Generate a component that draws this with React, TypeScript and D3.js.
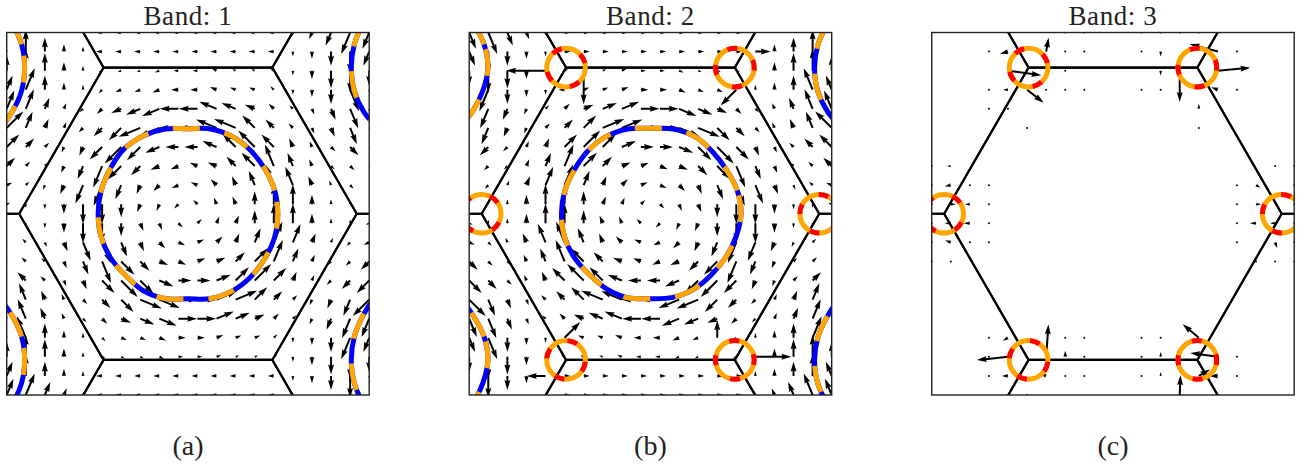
import React from "react";
import * as d3 from "d3";

// ---------- labels ----------
const bandNames = ["Band: 1", "Band: 2", "Band: 3"];
const panelTags = ["(a)", "(b)", "(c)"];

// ---------- Brillouin-zone geometry (1/Å) ----------
const kLimit = 4.5; // plotted window is [-kLimit, kLimit] in kx and ky
const kPointRadius = 4.19; // |ΓK| = 4π/3
const gridCount = 20; // quiver samples per axis

// Fermi contour around Γ: radius (1/Å) every 15°, counter-clockwise from +kx
const fermiAngleStep = 15;
const fermiRadiusBand1 = [
  2.23, 2.23, 2.21, 2.21, 2.21, 2.18, 2.11, 2.18, 2.23, 2.26, 2.23, 2.23,
  2.23, 2.23, 2.21, 2.18, 2.21, 2.18, 2.11, 2.18, 2.21, 2.21, 2.21, 2.23,
];
const fermiRadiusBand2 = [
  2.25, 2.23, 2.18, 2.18, 2.21, 2.18, 2.12, 2.18, 2.21, 2.2, 2.18, 2.2,
  2.21, 2.21, 2.18, 2.14, 2.16, 2.16, 2.11, 2.15, 2.16, 2.14, 2.16, 2.2,
];
// small pockets centred on the K points (bands 2 and 3)
const kPocketRadius = 0.48;

// Spin texture, rows from ky = +4.5 (top) to ky = -4.5 (bottom), columns kx = -4.5 .. 4.5.
// Token: first char = direction sector (hex, 22.5° steps counter-clockwise from +kx),
// rest = arrow magnitude.
const spinBand1 = [
  "514 519 511 55 53 84 84 84 84 84 84 84 84 84 84 b3 b5 b11 b19 b14",
  "512 418 411 45 43 84 84 84 84 84 84 84 84 84 84 c3 c5 c11 c18 b12",
  "412 418 414 46 43 92 92 92 93 83 83 73 72 72 72 c3 c6 c14 c18 c12",
  "312 319 411 45 43 a3 94 94 95 85 85 75 74 74 63 c3 c5 c11 d19 d12",
  "316 317 39 34 a3 a5 98 912 915 815 815 715 712 78 65 63 d4 d9 d17 d16",
  "219 314 37 34 a4 a9 a14 919 918 816 816 718 719 614 69 64 d4 d7 d14 e19",
  "214 29 24 b4 b7 a14 a19 a15 912 810 810 712 615 619 614 57 54 e4 e9 e14",
  "29 24 23 b5 b11 b19 a15 a10 97 96 76 77 610 615 519 511 55 e3 e4 e9",
  "14 23 b3 b7 b16 b18 b12 b7 a6 95 75 66 57 512 518 516 57 53 e3 f4",
  "12 c2 c3 c7 c16 c16 c10 b6 b5 a4 64 55 56 410 416 416 47 43 42 f2",
  "72 c2 c3 c7 c16 c16 c10 d6 d5 e4 24 35 36 410 416 416 47 43 42 92",
  "74 63 d3 d7 d16 d18 d12 d7 e6 f5 15 26 37 312 318 316 37 33 a3 94",
  "69 64 63 d5 d11 d19 e15 e10 f7 f6 16 17 210 215 319 311 35 a3 a4 a9",
  "614 69 64 d4 d7 e14 e19 e15 f12 010 010 112 215 219 214 37 34 a4 a9 a14",
  "619 514 57 54 e4 e9 e14 f19 f18 016 016 118 119 214 29 24 b4 b7 b14 a19",
  "516 517 59 54 e3 e5 f8 f12 f15 015 015 115 112 18 25 23 b4 b9 b17 b16",
  "512 519 411 45 43 e3 f4 f4 f5 05 05 15 14 14 23 c3 c5 c11 b19 b12",
  "412 418 414 46 43 f2 f2 f2 f3 03 03 13 12 12 12 c3 c6 c14 c18 c12",
  "312 418 411 45 43 84 84 84 84 84 84 84 84 84 84 c3 c5 c11 c18 d12",
  "314 319 311 35 33 84 84 84 84 84 84 84 84 84 84 d3 d5 d11 d19 d14",
];

const spinBand2 = [
  "d14 d19 d11 d5 d3 04 04 04 04 04 04 04 04 04 04 33 35 311 319 314",
  "d12 c18 c11 c5 c3 04 04 04 04 04 04 04 04 04 04 012 45 411 418 312",
  "c12 c18 c14 c6 833 12 c28 12 13 03 03 f3 f2 f2 f2 43 46 414 418 412",
  "b12 b19 c11 c5 c3 84 14 14 15 05 05 f5 f4 f4 a18 43 45 411 519 512",
  "b16 b17 b9 b4 23 25 18 112 115 015 015 f15 f12 f8 e5 e3 54 59 517 516",
  "a19 b14 b7 b4 24 29 214 119 118 016 016 f18 f19 e14 e9 e4 54 57 514 619",
  "a14 a9 a4 34 37 214 219 215 112 010 010 f12 e15 e19 e14 d7 d4 64 69 614",
  "a9 a4 a3 35 311 319 215 210 17 16 f6 f7 e10 e15 d19 d11 d5 63 64 69",
  "94 a3 33 37 316 318 312 37 26 15 f5 e6 d7 d12 d18 d16 d7 d3 63 74",
  "92 42 43 47 416 416 410 36 35 24 e4 d5 d6 c10 c16 c16 c7 c3 c2 72",
  "f2 42 43 47 416 416 410 56 55 64 a4 b5 b6 c10 c16 c16 c7 c3 c2 12",
  "f4 e3 53 57 516 518 512 57 66 75 95 a6 b7 b12 b18 b16 b7 b3 23 14",
  "e9 e4 e3 55 511 519 615 610 77 76 96 97 a10 a15 b19 b11 b5 23 24 29",
  "e14 e9 e4 54 57 614 619 615 712 810 810 912 a15 a19 a14 b7 b4 24 29 214",
  "e19 d14 d7 d4 64 69 614 719 718 816 816 918 919 a14 a9 a4 34 37 314 219",
  "d16 d17 d9 d4 63 65 78 712 715 815 815 915 912 98 a5 a3 34 39 317 316",
  "d12 d19 c11 c5 c3 218 74 74 75 85 85 95 94 414 a3 43 45 411 319 312",
  "c12 c18 c14 c6 c3 72 72 72 73 83 83 93 92 92 92 030 46 414 418 412",
  "b12 c18 c11 c5 815 04 04 04 04 04 04 04 04 04 04 43 45 411 418 512",
  "b14 b19 b11 b5 b3 04 04 04 04 04 04 04 04 04 04 53 55 511 519 514",
];

// Band 3 only carries spin near the K points: [column, row, angle°, magnitude]
const spinBand3: [number, number, number, number][] = [
  // K, upper left
  [4, 2, -8, 28], [5, 3, -38, 17], [6, 1, 80, 11], [4, 1, 195, 6], [4, 3, 180, 3],
  [5, 0, 90, 2], [6, 0, 90, 2], [3, 1, 0, 1], [3, 3, 0, 1], [3, 4, 0, 1], [4, 4, 0, 1],
  [5, 5, 0, 1], [6, 3, 0, 1], [7, 1, 0, 1], [8, 1, 0, 1], [7, 2, 0, 1], [7, 3, 0, 1], [8, 3, 0, 1],
  [7, 0, 0, 1], [8, 0, 0, 1],
  // K, upper right
  [15, 2, 5, 27], [13, 2, -90, 26], [15, 1, 165, 24], [12, 1, -90, 3], [12, 2, -90, 3],
  [15, 3, 160, 5], [14, 4, 90, 3], [11, 1, 0, 1], [16, 1, 0, 1], [16, 3, 0, 1], [14, 5, 0, 1],
  [12, 3, 0, 1], [11, 3, 0, 1], [11, 0, 0, 1], [12, 0, 0, 1], [13, 0, 0, 1], [14, 0, 0, 1],
  // K, left
  [1, 7, 180, 2], [1, 8, 190, 4], [2, 8, 0, 1], [1, 9, 0, 3], [2, 9, 180, 3], [1, 10, 180, 4],
  [2, 10, 180, 4], [1, 11, 160, 4], [2, 11, 0, 1], [3, 8, 0, 1], [3, 9, 0, 1], [3, 10, 0, 1],
  [3, 11, 0, 1], [1, 12, 0, 1], [0, 7, 0, 1], [0, 8, 0, 1], [0, 9, 0, 1], [0, 10, 0, 1],
  [0, 11, 0, 1], [0, 12, 0, 1],
  // K, right
  [18, 7, 0, 1], [17, 8, -30, 3], [16, 8, 0, 1], [16, 9, 0, 1], [16, 10, 0, 1], [16, 11, 0, 1],
  [17, 9, 0, 3], [17, 10, 180, 4], [18, 10, 180, 3], [18, 11, -70, 4], [17, 12, 0, 1],
  [18, 12, 0, 1], [19, 7, 0, 1], [19, 8, 0, 1], [19, 9, 0, 1], [19, 10, 0, 1], [19, 11, 0, 1],
  [19, 12, 0, 1],
  // K, lower left
  [4, 17, 186, 26], [6, 17, 86, 27], [4, 16, 210, 4], [3, 16, 0, 1], [4, 18, 180, 4],
  [6, 18, 160, 4], [7, 16, 0, 1], [7, 17, 90, 4], [7, 18, 0, 1], [8, 16, 0, 1], [8, 17, 0, 1],
  [8, 18, 0, 1], [3, 17, 0, 1], [3, 18, 0, 1], [5, 19, 0, 1],
  // K, lower right
  [14, 16, 140, 17], [15, 17, 172, 23], [14, 18, 30, 10], [13, 19, 88, 16], [15, 18, 180, 6],
  [16, 17, 0, 1], [16, 18, 0, 1], [12, 17, 90, 3], [11, 17, 0, 1], [12, 16, 0, 1],
  [11, 16, 0, 1], [12, 18, 90, 2], [11, 18, 0, 1],
];

// ---------- layout ----------
const width = 1311;
const height = 470;
const panelSize = 362.5;
const panelGap = 100;
const firstLeft = 6.7;
const panelTop = 32.5;

const colors = {
  blue: "#0000ff",
  orange: "#ffa500",
  red: "#ff0000",
  ink: "#000000",
};

// magnitude -> drawn arrow length (px)
const arrowLength = d3.scaleLinear().domain([0, 20]).range([1.5, 24.5]);

type Arrow = { kx: number; ky: number; angle: number; mag: number };

// matplotlib-style quiver polygon, tail at the origin, pointing along +x
function arrowShape(len: number): string {
  const w = 2.0;
  const hw = 3 * w;
  const hl = 5 * w;
  const hal = 4.5 * w;
  const s = len >= hl ? 1 : len / hl;
  const pts: [number, number][] = [
    [0, (-w / 2) * s],
    [len - hal * s, (-w / 2) * s],
    [len - hl * s, (-hw / 2) * s],
    [len, 0],
    [len - hl * s, (hw / 2) * s],
    [len - hal * s, (w / 2) * s],
    [0, (w / 2) * s],
  ];
  return "M" + pts.map((p) => `${p[0].toFixed(2)},${p[1].toFixed(2)}`).join("L") + "Z";
}

function Panel({ index }: { index: number }) {
  const left = firstLeft + index * (panelSize + panelGap);
  const x = d3.scaleLinear().domain([-kLimit, kLimit]).range([left, left + panelSize]);
  const y = d3.scaleLinear().domain([kLimit, -kLimit]).range([panelTop, panelTop + panelSize]);
  const gridScale = d3.scaleLinear().domain([0, gridCount - 1]).range([-kLimit, kLimit]);
  const pxPerK = panelSize / (2 * kLimit);
  const clipId = `zone-clip-${index}`;

  // reciprocal lattice points: Γ and its six neighbours
  const gammaDist = Math.sqrt(3) * kPointRadius;
  const gammas: [number, number][] = [[0, 0]].concat(
    d3.range(6).map((n) => {
      const a = ((30 + 60 * n) * Math.PI) / 180;
      return [gammaDist * Math.cos(a), gammaDist * Math.sin(a)];
    })
  ) as [number, number][];

  const hexPath = (g: [number, number]) =>
    d3
      .range(6)
      .map((n) => {
        const a = (60 * n * Math.PI) / 180;
        const px = x(g[0] + kPointRadius * Math.cos(a));
        const py = y(g[1] + kPointRadius * Math.sin(a));
        return `${n === 0 ? "M" : "L"}${px},${py}`;
      })
      .join("") + "Z";

  const kPoints: [number, number][] = d3.range(6).map((n) => {
    const a = (60 * n * Math.PI) / 180;
    return [kPointRadius * Math.cos(a), kPointRadius * Math.sin(a)];
  });

  // arrows
  let arrows: Arrow[] = [];
  if (index < 2) {
    const rows = index === 0 ? spinBand1 : spinBand2;
    rows.forEach((row, r) => {
      row
        .trim()
        .split(/\s+/)
        .forEach((tok, c) => {
          arrows.push({
            kx: gridScale(c),
            ky: gridScale(gridCount - 1 - r),
            angle: parseInt(tok[0], 16) * 22.5,
            mag: +tok.slice(1),
          });
        });
    });
  } else {
    arrows = spinBand3.map(([c, r, angle, mag]) => ({
      kx: gridScale(c),
      ky: gridScale(gridCount - 1 - r),
      angle,
      mag,
    }));
  }

  const radii = index === 0 ? fermiRadiusBand1 : index === 1 ? fermiRadiusBand2 : null;
  const contourLine = d3
    .line<[number, number]>()
    .x((p) => x(p[0]))
    .y((p) => y(p[1]))
    .curve(d3.curveCatmullRomClosed.alpha(0.5));
  const contourFor = (g: [number, number]) =>
    radii
      ? contourLine(
          radii.map((rk, i) => {
            const a = (i * fermiAngleStep * Math.PI) / 180;
            return [g[0] + rk * Math.cos(a), g[1] + rk * Math.sin(a)] as [number, number];
          })
        ) || ""
      : "";

  const cx = left + panelSize / 2;

  return (
    <g>
      <defs>
        <clipPath id={clipId}>
          <rect x={left} y={panelTop} width={panelSize} height={panelSize} />
        </clipPath>
      </defs>
      <text x={cx} y={24.5} textAnchor="middle" fontSize={27} letterSpacing={0.6} fill="#222">
        {bandNames[index]}
      </text>
      <g clipPath={`url(#${clipId})`}>
        {gammas.map((g, i) => (
          <path key={`hex${i}`} d={hexPath(g)} fill="none" stroke={colors.ink} strokeWidth={2.1} strokeLinejoin="miter" />
        ))}
        {arrows.map((a, i) =>
          a.mag <= 1 ? (
            <circle key={`ar${i}`} cx={x(a.kx)} cy={y(a.ky)} r={1} fill={colors.ink} />
          ) : (
            <path
              key={`ar${i}`}
              d={arrowShape(arrowLength(a.mag))}
              transform={`translate(${x(a.kx).toFixed(2)},${y(a.ky).toFixed(2)}) rotate(${-a.angle})`}
              fill={colors.ink}
            />
          )
        )}
        {radii &&
          gammas.map((g, i) => (
            <g key={`fs${i}`}>
              <path d={contourFor(g)} fill="none" stroke={colors.blue} strokeWidth={5} />
              <path d={contourFor(g)} fill="none" stroke={colors.orange} strokeWidth={5} strokeDasharray="27 25" />
            </g>
          ))}
        {index > 0 &&
          kPoints.map((k, i) => (
            <g key={`kp${i}`}>
              <circle cx={x(k[0])} cy={y(k[1])} r={kPocketRadius * pxPerK} fill="none" stroke={colors.orange} strokeWidth={5} />
              <circle
                cx={x(k[0])}
                cy={y(k[1])}
                r={kPocketRadius * pxPerK}
                fill="none"
                stroke={colors.red}
                strokeWidth={5}
                strokeDasharray="10 20"
                strokeDashoffset={i * 7}
              />
            </g>
          ))}
      </g>
      <rect x={left} y={panelTop} width={panelSize} height={panelSize} fill="none" stroke="#222" strokeWidth={1.4} />
      <text x={cx} y={455} textAnchor="middle" fontSize={28} fill="#222">
        {panelTags[index]}
      </text>
    </g>
  );
}

export default function App() {
  return (
    <svg
      width={width}
      height={height}
      viewBox={`0 0 ${width} ${height}`}
      style={{ position: "absolute", left: 0, top: 0, background: "#fff", display: "block" }}
      fontFamily="'Liberation Serif', 'Times New Roman', serif"
    >
      <rect x={0} y={0} width={width} height={height} fill="#fff" />
      {bandNames.map((_, i) => (
        <Panel key={i} index={i} />
      ))}
    </svg>
  );
}
